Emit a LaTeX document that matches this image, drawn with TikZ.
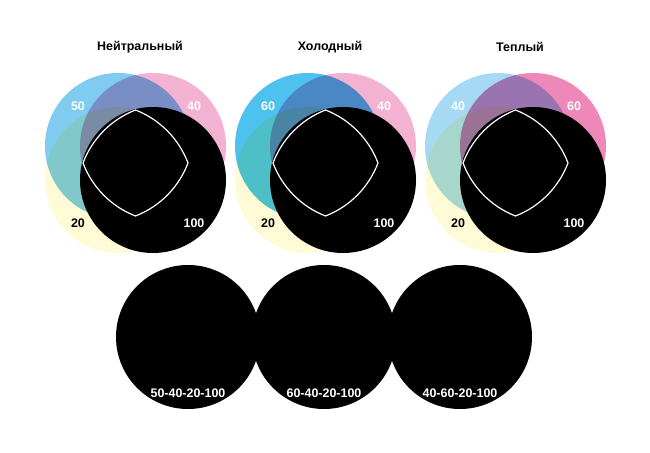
\documentclass[tikz,border=0pt]{standalone}
\usepackage{fontspec}
\setmainfont{Liberation Sans}
\usepackage{xcolor}

\definecolor{cyan40}{HTML}{A6DAF4}
\definecolor{cyan50}{HTML}{80CCF1}
\definecolor{cyan60}{HTML}{4EC2EE}
\definecolor{magenta40}{HTML}{F4B2D2}
\definecolor{magenta60}{HTML}{EE88B8}
\definecolor{yellow20}{HTML}{FFFBD6}

\begin{document}
\begin{tikzpicture}[
    x=1bp,
    y=-1bp,
    font=\bfseries\fontsize{12.5}{14}\selectfont,
    ink/.style={
        circle,
        inner sep=0pt,
        minimum size=146bp
    },
    val/.style={
        text=white,
        inner sep=1pt
    },
    heading/.style={
        text=black,
        inner sep=1pt
    },
    rim/.style={
        white,
        line width=1.2bp,
        line join=miter
    }
]

\useasboundingbox (0,0) rectangle (650,453);

% Three mixes
\foreach \cx/\cc/\mc/\cv/\mv/\ttl/\n in {
    135.5/cyan50/magenta40/50/40/Нейтральный/a,
    325.5/cyan60/magenta40/60/40/Холодный/b,
    515.5/cyan40/magenta60/40/60/Теплый/c}
{
    \begin{scope}[blend group=multiply]
        \node[ink, fill=\cc] (\n-c) at (\cx-17.5,146) {};
        \node[ink, fill=\mc] (\n-m) at (\cx+17.5,146) {};
        \node[ink, fill=yellow20] (\n-y) at (\cx-17.5,180) {};
    \end{scope}
    \node[ink, fill=black] (\n-k) at (\cx+17.5,180) {};

    % Common area of the four inks
    \begin{scope}[shift={(\cx,163)}]
        \draw[rim] (0,-53)
            .. controls (24.2,-43.6) and (43.3,-24.3) .. (52.5,0)
            .. controls (43.3,24.3) and (24.2,43.6) .. (0,53)
            .. controls (-24.2,43.6) and (-43.3,24.3) .. (-52.5,0)
            .. controls (-43.3,-24.3) and (-24.2,-43.6) .. (0,-53) -- cycle;
    \end{scope}

    % Values
    \node[val] (\n-cv) at (\cx-57.5,106) {\cv};
    \node[val] (\n-mv) at (\cx+58.5,106) {\mv};
    \node[val, text=black] (\n-yv) at (\cx-57.5,223) {20};
    \node[val] (\n-kv) at (\cx+58.5,223) {100};

    \node[heading] (\n-t) at (\cx+4.5,47) {\ttl};
}

% Resulting blacks
\foreach \bx/\n in {188/p, 324/q, 460/r}
    \node[ink, fill=black, minimum size=144bp] (\n) at (\bx,337) {};

\node[val] (p-l) at (188,393) {50-40-20-100};
\node[val] (q-l) at (324,393) {60-40-20-100};
\node[val] (r-l) at (460,393) {40-60-20-100};

\end{tikzpicture}
\end{document}
